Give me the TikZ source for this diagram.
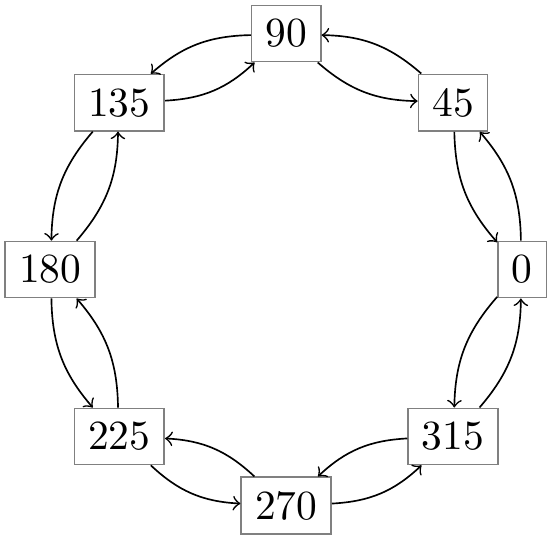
\documentclass[tikz,border=0pt]{standalone}
\begin{document}
\begin{tikzpicture}
\tikzset{
  anglebox/.style={draw=gray, rectangle, inner sep=0.3333em},
  link/.style={->, bend right=20}
}
\useasboundingbox (-69.0pt,-65.0pt) rectangle (64.1pt,65.0pt);
\foreach \a in {0,45,...,315}{
  \node[anglebox] (n\a) at (\a:2cm) {\a};
}
\foreach \a/\b in {0/45,45/90,90/135,135/180,180/225,225/270,270/315,315/0}{
  \draw[link] (n\a) to (n\b);
  \draw[link] (n\b) to (n\a);
}
\end{tikzpicture}
\end{document}
